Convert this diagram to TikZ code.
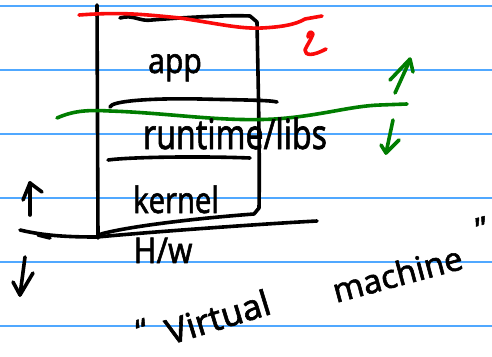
\documentclass[tikz,border=0pt]{standalone}
\usepackage{fontspec}
\usepackage{graphicx}
\setmainfont{Noto Sans}
\newfontfamily\handfont{Noto Sans}[FakeBold=1.6]
\definecolor{ruleblue}{RGB}{80,168,255}
\definecolor{inkred}{RGB}{250,10,10}
\definecolor{inkgreen}{RGB}{0,125,0}
\tikzset{
  rule/.style={ruleblue, line width=1.4pt},
  ink/.style={black, line width=3.6pt, line cap=round, line join=round},
  redink/.style={inkred, line width=3.6pt, line cap=round, line join=round},
  greenink/.style={inkgreen, line width=3.6pt, line cap=round, line join=round},
  hand/.style={inner sep=0pt, text=black, font=\handfont},
}
\begin{document}
\begin{tikzpicture}[x=1pt, y=-1pt]
\useasboundingbox (0,0) rectangle (492,356);
\fill[white] (0,0) rectangle (492,356);

% ruled notebook lines
\foreach \yy in {6,70,134,198,262,326}
  \draw[rule] (0,\yy) -- (492,\yy);

% the layered stack
\draw[ink] (97,5) -- (98,238);
\draw[ink] (120,18) .. controls (133,14) and (140,22) .. (152,20)
  .. controls (190,17) and (230,15) .. (250,16) -- (257,22)
  .. controls (258,80) and (260,150) .. (259,208) -- (254,214)
  .. controls (200,218) and (130,226) .. (101,234);
\draw[ink] (110,107) .. controls (111,101) and (150,98) .. (200,99)
  .. controls (240,100) and (270,100) .. (277,102);
\draw[ink] (108,160) .. controls (130,157) and (200,156) .. (250,158);

% hardware line
\draw[ink] (20,230) .. controls (45,236) and (70,237) .. (97,237)
  .. controls (150,232) and (260,224) .. (317,221);
\draw[ink] (38,235) -- (50,238);

% red boundary and its arrow
\draw[redink] (79,15) .. controls (120,12) and (140,14) .. (180,18)
  .. controls (220,24) and (240,29) .. (262,28)
  .. controls (280,27) and (295,25) .. (305,19) -- (322,16);
\draw[redink] (308,37) .. controls (308,33) and (311,30) .. (313,34)
  .. controls (311,40) and (307,45) .. (305,50)
  .. controls (305,56) and (313,56) .. (326,49);

% green boundary and its arrows
\draw[greenink] (57,118) .. controls (75,110) and (90,110) .. (110,111)
  .. controls (170,113) and (220,122) .. (275,119)
  .. controls (320,116) and (350,106) .. (380,105) -- (407,104);
\draw[greenink] (395,93) -- (410,60);
\draw[greenink] (390,80) -- (410,59) -- (413,72);
\draw[greenink] (393,120) -- (386,153);
\draw[greenink] (381,145) -- (386,153) -- (399,140);

% black arrows on the left
\draw[ink] (30,215) -- (30,183);
\draw[ink] (23,200) -- (30,183) -- (42,192);
\draw[ink] (25,257) -- (20,295);
\draw[ink] (13,282) -- (20,295) -- (33,273);

% layer labels
\node[hand, anchor=base] (app) at (175,73)
  {\fontsize{30}{30}\selectfont\scalebox{1}[1.15]{app}};
\node[hand, anchor=base] (rt) at (235,149)
  {\fontsize{32}{32}\selectfont\scalebox{1}[1.3]{runtime/libs}};
\node[hand, anchor=base] (kern) at (176,213)
  {\fontsize{29}{29}\selectfont\scalebox{1}[1.25]{kernel}};
\node[hand, anchor=base] (hw) at (163,263)
  {\fontsize{31}{31}\selectfont\scalebox{1}[1.15]{H/w}};

% caption
\node[hand, anchor=base west, rotate=17] (oq) at (140,343)
  {\fontsize{32}{32}\selectfont “};
\node[hand, anchor=base west, rotate=17] (virt) at (170,345)
  {\fontsize{35}{35}\selectfont Virtual};
\node[hand, anchor=base west, rotate=15] (mach) at (336,303)
  {\fontsize{33}{33}\selectfont machine};
\node[hand, anchor=base east, rotate=15] (cq) at (491,238)
  {\fontsize{32}{32}\selectfont ”};
\end{tikzpicture}
\end{document}
